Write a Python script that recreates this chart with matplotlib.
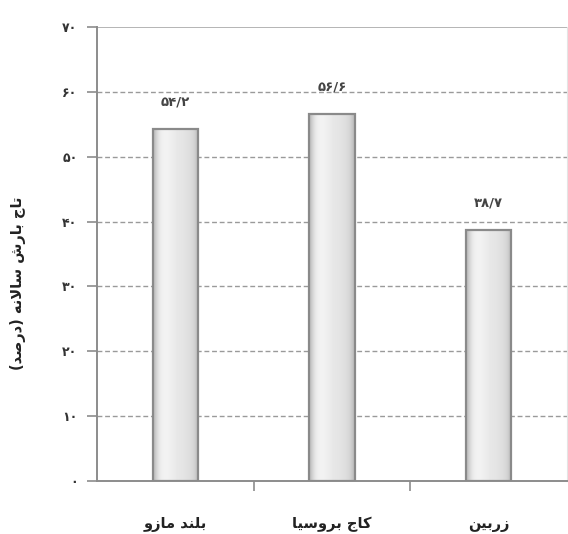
import numpy as np
import matplotlib
matplotlib.use("Agg")
import matplotlib.pyplot as plt
from matplotlib.patches import Rectangle

# ---------------- data ----------------
categories = ["بلند مازو", "کاج بروسیا", "زربین"]
values = [54.2, 56.6, 38.7]
value_labels = ["۵۴/۲", "۵۶/۶", "۳۸/۷"]
y_ticks = [0, 10, 20, 30, 40, 50, 60, 70]
y_tick_labels = ["۰", "۱۰", "۲۰", "۳۰", "۴۰", "۵۰", "۶۰", "۷۰"]
y_label = "تاج بارش سالانه (درصد)"

# ------------- minimal Persian shaping (matplotlib has no RTL shaping) -------------
FORMS = {
    'ا': ('\uFE8D', '\uFE8E', None, None),
    'ب': ('\uFE8F', '\uFE90', '\uFE91', '\uFE92'),
    'ت': ('\uFE95', '\uFE96', '\uFE97', '\uFE98'),
    'ج': ('\uFE9D', '\uFE9E', '\uFE9F', '\uFEA0'),
    'د': ('\uFEA9', '\uFEAA', None, None),
    'ر': ('\uFEAD', '\uFEAE', None, None),
    'ز': ('\uFEAF', '\uFEB0', None, None),
    'س': ('\uFEB1', '\uFEB2', '\uFEB3', '\uFEB4'),
    'ش': ('\uFEB5', '\uFEB6', '\uFEB7', '\uFEB8'),
    'ص': ('\uFEB9', '\uFEBA', '\uFEBB', '\uFEBC'),
    'ل': ('\uFEDD', '\uFEDE', '\uFEDF', '\uFEE0'),
    'م': ('\uFEE1', '\uFEE2', '\uFEE3', '\uFEE4'),
    'ن': ('\uFEE5', '\uFEE6', '\uFEE7', '\uFEE8'),
    'ه': ('\uFEE9', '\uFEEA', '\uFEEB', '\uFEEC'),
    'و': ('\uFEED', '\uFEEE', None, None),
    'ک': ('\uFB8E', '\uFB8F', '\uFB90', '\uFB91'),
    'ی': ('\uFBFC', '\uFBFD', '\uFBFE', '\uFBFF'),
}


def shape(text):
    chars = list(text)
    n = len(chars)
    res = []
    i = 0
    while i < n:
        c = chars[i]
        if c not in FORMS:
            res.append(c)
            i += 1
            continue
        prev = chars[i - 1] if i > 0 else None
        prev_joins = prev in FORMS and FORMS[prev][2] is not None
        if c == 'ل' and i + 1 < n and chars[i + 1] == 'ا':
            res.append('\uFEFC' if prev_joins else '\uFEFB')
            i += 2
            continue
        nxt = chars[i + 1] if i + 1 < n else None
        next_joins = (nxt in FORMS) and FORMS[c][2] is not None
        iso, fin, ini, med = FORMS[c]
        if prev_joins and next_joins:
            g = med
        elif prev_joins:
            g = fin
        elif next_joins:
            g = ini
        else:
            g = iso
        res.append(g)
        i += 1
    vis = ''.join(reversed(res))
    vis = vis.translate(str.maketrans({'(': ')', ')': '('}))
    return vis


# ---------------- figure ----------------
W, H = 568, 534
fig = plt.figure(figsize=(W / 100, H / 100), dpi=100)
ax = fig.add_axes([97 / W, (H - 481) / H, (567 - 97) / W, (481 - 27) / H])

x = np.arange(len(categories))
bar_w = 0.29

# gridlines
for t in y_ticks[1:-1]:
    ax.axhline(t, color="#9a9a9a", lw=1.0, ls=(0, (3.5, 2)), zorder=1)
ax.axhline(70, color="#a8a8a8", lw=1.2, zorder=1)

# gradient bars
prof = np.array([0.74, 0.84, 0.91, 0.94, 0.95, 0.95, 0.94, 0.93, 0.92, 0.91,
                 0.90, 0.90, 0.89, 0.88, 0.87, 0.85, 0.81, 0.74])
img = np.tile(prof, (2, 1))
bars = ax.bar(x, values, width=bar_w, color="none", edgecolor="#8a8a8a",
              linewidth=1.6, zorder=3)
for b in bars:
    x0, w, h = b.get_x(), b.get_width(), b.get_height()
    im = ax.imshow(img, cmap="gray", vmin=0, vmax=1, aspect="auto",
                   extent=(x0, x0 + w, 0, h), interpolation="bicubic", zorder=2)
    clip = Rectangle((x0, 0), w, h, transform=ax.transData)
    im.set_clip_path(clip)
ax.set_xlim(-0.5, len(categories) - 0.5)
ax.set_ylim(0, 70)

# value labels
for xi, v, lab in zip(x, values, value_labels):
    ax.annotate(lab, (xi, v), xytext=(0, 15), textcoords="offset points",
                ha="center", va="bottom", fontsize=9.5, fontweight="bold",
                color="#444444", zorder=4)

# spines
ax.spines["top"].set_visible(False)
ax.spines["right"].set_color("#e4e4e4")
ax.spines["right"].set_linewidth(0.8)
ax.spines["left"].set_color("#8c8c8c")
ax.spines["left"].set_linewidth(1.4)
ax.spines["bottom"].set_color("#8c8c8c")
ax.spines["bottom"].set_linewidth(1.4)

# y axis
ax.set_yticks(y_ticks)
ax.set_yticklabels(y_tick_labels, fontsize=9, fontweight="bold", color="#333333")
ax.tick_params(axis="y", length=7, width=1.2, color="#8c8c8c", pad=7)

# x axis
ax.set_xticks(x)
ax.set_xticklabels([shape(c) for c in categories], fontsize=10.5,
                   fontweight="bold", color="#222222")
ax.tick_params(axis="x", which="major", length=0, pad=26)
ax.set_xticks(np.arange(0.5, len(categories) - 0.5, 1.0), minor=True)
ax.tick_params(axis="x", which="minor", length=7, width=1.2, color="#8c8c8c")

# y label
fig.text(18 / W, 1 - 283 / H, shape(y_label), rotation=90, ha="center",
         va="center", fontsize=10.5, fontweight="bold", color="#222222")

fig.savefig("out.png", dpi=100)
